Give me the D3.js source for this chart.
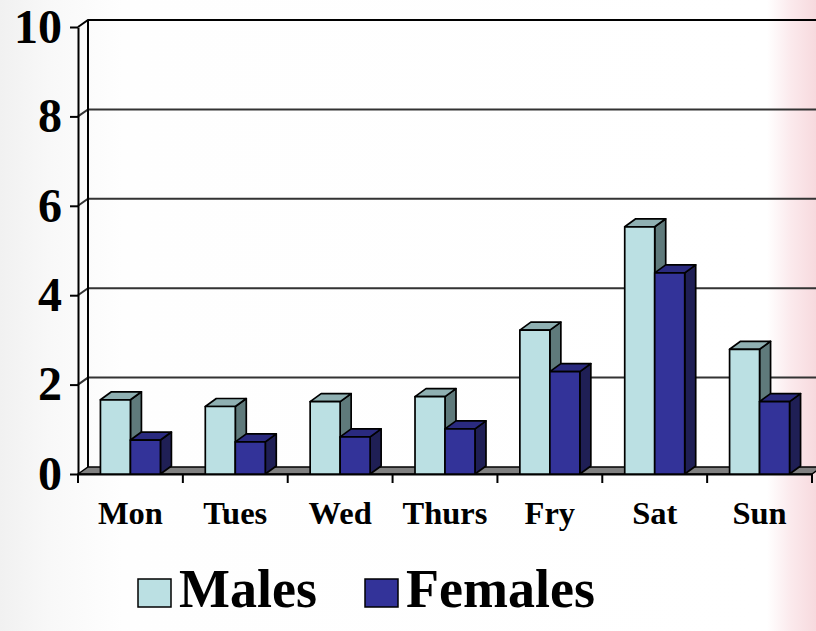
<!DOCTYPE html>
<html>
<head>
<meta charset="utf-8">
<script src="https://cdn.jsdelivr.net/npm/d3@7"></script>
<style>
  html, body { margin: 0; padding: 0; background: #fff; }
  svg { display: block; }
  text { font-family: "Liberation Serif", "Times New Roman", serif; font-weight: bold; fill: #000; }
</style>
</head>
<body>
<div id="chart"></div>
<script>
var days = ['Mon', 'Tues', 'Wed', 'Thurs', 'Fry', 'Sat', 'Sun'];
var males = [1.66, 1.51, 1.62, 1.73, 3.22, 5.53, 2.79];
var females = [0.76, 0.72, 0.83, 1.01, 2.29, 4.50, 1.62];
var yTicks = [0, 2, 4, 6, 8, 10];
var seriesNames = ['Males', 'Females'];

var W = 816, H = 631;
var wall = { dx: 10, dy: -7 };   // depth of the back wall
var box = { dx: 11, dy: -8 };    // depth of each bar

var svg = d3.select('#chart').append('svg')
    .attr('width', W)
    .attr('height', H);

// background: faint grey on the left, pinkish band on the right
var defs = svg.append('defs');
var grad = defs.append('linearGradient').attr('id', 'bg');
[[0, '#f1f1f1'], [0.06, '#f8f8f8'], [0.15, '#fefefe'], [0.94, '#ffffff'], [0.97, '#fbe9ec'], [1, '#f7dade']]
  .forEach(function (s) {
    grad.append('stop').attr('offset', s[0]).attr('stop-color', s[1]);
  });
svg.append('rect').attr('width', W).attr('height', H).attr('fill', 'url(#bg)');

var x = d3.scaleBand()
    .domain(days)
    .range([78, 812])
    .paddingInner(0)
    .paddingOuter(0);

var y = d3.scaleLinear()
    .domain([0, 10])
    .range([474, 27]);

var barW = x.bandwidth() * 0.286;

// grid lines on the back wall, with the diagonal across the left wall
var grid = svg.append('g').classed('grid', true);
grid.selectAll('polyline')
    .data(yTicks.filter(function (d) { return d > 0; }))
    .enter()
    .append('polyline')
    .attr('fill', 'none')
    .attr('stroke', function (d) { return d === 10 ? '#000' : '#333'; })
    .attr('stroke-width', 2)
    .attr('points', function (d) {
      var yf = y(d), yb = yf + wall.dy;
      return [[x.range()[0], yf], [x.range()[0] + wall.dx, yb], [W + 20, yb]].join(' ');
    });

// back edge of the left wall
svg.append('line')
    .attr('x1', x.range()[0] + wall.dx).attr('x2', x.range()[0] + wall.dx)
    .attr('y1', y(10) + wall.dy).attr('y2', y(0) + wall.dy)
    .attr('stroke', '#000').attr('stroke-width', 2);

// floor
var x0 = x.range()[0], x1 = x.range()[1];
svg.append('polygon')
    .attr('points', [[x0, y(0)], [x0 + wall.dx, y(0) + wall.dy], [x1 + wall.dx, y(0) + wall.dy], [x1, y(0)]].join(' '))
    .attr('fill', '#808080')
    .attr('stroke', '#000')
    .attr('stroke-width', 1.5);

// y axis
var yAxis = svg.append('g')
    .attr('transform', 'translate(' + x0 + ',0)')
    .call(d3.axisLeft(y).tickValues(yTicks).tickSize(8).tickPadding(8).tickSizeOuter(0));
yAxis.select('.domain').attr('stroke', '#000').attr('stroke-width', 2);
yAxis.selectAll('.tick line').attr('stroke', '#000').attr('stroke-width', 2);
yAxis.selectAll('.tick text')
    .attr('font-size', 48)
    .attr('font-family', '"Liberation Serif", serif')
    .attr('font-weight', 'bold')
    .attr('fill', '#000');

// x axis: labels centred in each band, ticks on band edges
var xAxis = svg.append('g')
    .attr('transform', 'translate(0,' + y(0) + ')')
    .call(d3.axisBottom(x).tickSize(0).tickPadding(27));
xAxis.select('.domain').attr('stroke', '#000').attr('stroke-width', 2);
xAxis.selectAll('.tick text')
    .attr('font-size', 32.5)
    .attr('font-family', '"Liberation Serif", serif')
    .attr('font-weight', 'bold')
    .attr('fill', '#000');
xAxis.selectAll('line.edge')
    .data(days.map(function (d) { return x(d); }).concat([x1]))
    .enter()
    .append('line')
    .classed('edge', true)
    .attr('x1', function (d) { return d; })
    .attr('x2', function (d) { return d; })
    .attr('y1', 0)
    .attr('y2', 9)
    .attr('stroke', '#000')
    .attr('stroke-width', 2);

// 3D bars
var palette = [
  { front: '#bbe0e3', top: '#8fb0b2', side: '#5f7a7b' },
  { front: '#333399', top: '#2a2a7f', side: '#1f1f55' }
];
var bars = [];
days.forEach(function (d, i) {
  bars.push({ day: d, s: 0, v: males[i] });
  bars.push({ day: d, s: 1, v: females[i] });
});

var g = svg.append('g').classed('bars', true)
    .selectAll('g')
    .data(bars)
    .enter()
    .append('g');

function left(d) { return x(d.day) + x.bandwidth() / 2 - barW + d.s * barW; }

g.append('polygon')
    .attr('fill', function (d) { return palette[d.s].side; })
    .attr('points', function (d) {
      var l = left(d) + barW, t = y(d.v), b = y(0);
      return [[l, b], [l + box.dx, b + box.dy], [l + box.dx, t + box.dy], [l, t]].join(' ');
    });
g.append('polygon')
    .attr('fill', function (d) { return palette[d.s].top; })
    .attr('points', function (d) {
      var l = left(d), t = y(d.v);
      return [[l, t], [l + box.dx, t + box.dy], [l + barW + box.dx, t + box.dy], [l + barW, t]].join(' ');
    });
g.append('rect')
    .attr('fill', function (d) { return palette[d.s].front; })
    .attr('x', left)
    .attr('y', function (d) { return y(d.v); })
    .attr('width', barW)
    .attr('height', function (d) { return y(0) - y(d.v); });
g.selectAll('polygon, rect')
    .attr('stroke', '#000')
    .attr('stroke-width', 1.7)
    .attr('stroke-linejoin', 'round');

// legend
var legend = svg.append('g').classed('legend', true)
    .selectAll('g')
    .data(seriesNames)
    .enter()
    .append('g')
    .attr('transform', function (d, i) { return 'translate(' + [138, 365][i] + ',579)'; });
legend.append('rect')
    .attr('width', 33)
    .attr('height', 28)
    .attr('fill', function (d, i) { return palette[i].front; })
    .attr('stroke', '#000')
    .attr('stroke-width', 1.5);
legend.append('text')
    .attr('x', 41)
    .attr('y', 28)
    .attr('font-size', 54)
    .text(function (d) { return d; });
</script>
</body>
</html>
